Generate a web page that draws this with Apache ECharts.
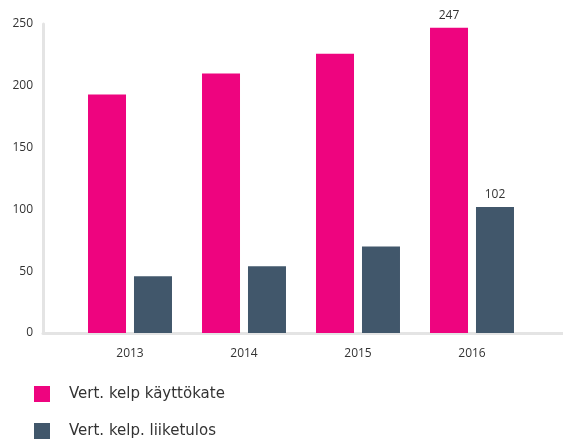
<!DOCTYPE html>
<html><head><meta charset="utf-8">
<script src="https://cdn.jsdelivr.net/npm/echarts@6/dist/echarts.min.js"></script>
<style>html,body{margin:0;padding:0;background:#fff}#c{width:563px;height:439px}</style>
</head><body><div id="c"></div>
<script>
const categories = ['2013', '2014', '2015', '2016'];
const ebitda = [193, 210, 226, 247];
const operatingResult = [46, 54, 70, 102];
const seriesNames = ['Vert. kelp käyttökate', 'Vert. kelp. liiketulos'];
const yTicks = [0, 50, 100, 150, 200, 250];

const FONT = '"Open Sans", "Noto Sans", sans-serif';
const LEGEND_FONT = '"DejaVu Sans", "Open Sans", sans-serif';
const chart = echarts.init(document.getElementById('c'), null, {renderer: 'canvas'});
const lastIdx = categories.length - 1;
chart.setOption({
  animation: false,
  textStyle: {fontFamily: FONT},
  grid: [
    {left: 43, right: 0, top: 24, bottom: 106},
    {left: 73, right: 34, top: 24, bottom: 106}
  ],
  xAxis: [
    {gridIndex: 0, type: 'value', min: 0, max: 1, offset: 2,
     axisLine: {show: true, lineStyle: {color: '#e4e4e4', width: 3}},
     axisTick: {show: false}, axisLabel: {show: false}, splitLine: {show: false}},
    {gridIndex: 1, type: 'category', data: categories,
     axisLine: {show: false}, axisTick: {show: false},
     axisLabel: {color: '#333', fontSize: 12, margin: 15, fontFamily: FONT}}
  ],
  yAxis: [
    {gridIndex: 0, type: 'value', min: yTicks[0], max: yTicks[yTicks.length - 1], interval: 50,
     axisLine: {show: true, lineStyle: {color: '#e4e4e4', width: 3}},
     axisTick: {show: false}, splitLine: {show: false},
     axisLabel: {color: '#333', fontSize: 12, margin: 10, fontFamily: FONT}},
    {gridIndex: 1, type: 'value', min: 0, max: 250, show: false}
  ],
  legend: {
    orient: 'vertical', left: 34, top: 386, padding: 0, itemWidth: 16, itemHeight: 16, itemGap: 21,
    icon: 'rect',
    textStyle: {color: '#333', fontSize: 15, fontFamily: LEGEND_FONT, padding: [0, 0, 0, 14]},
    data: seriesNames
  },
  series: [
    {name: seriesNames[0], type: 'bar', xAxisIndex: 1, yAxisIndex: 1,
     barWidth: 38, barGap: '21%', itemStyle: {color: '#EE047F'},
     data: ebitda.map((v, i) => i === lastIdx ? {value: v, label: {show: true}} : v),
     label: {show: false, position: 'top', distance: 6, color: '#333', fontSize: 12, fontFamily: FONT}},
    {name: seriesNames[1], type: 'bar', xAxisIndex: 1, yAxisIndex: 1,
     barWidth: 38, itemStyle: {color: '#41576B'},
     data: operatingResult.map((v, i) => i === lastIdx ? {value: v, label: {show: true}} : v),
     label: {show: false, position: 'top', distance: 6, color: '#333', fontSize: 12, fontFamily: FONT}}
  ]
});
</script></body></html>
